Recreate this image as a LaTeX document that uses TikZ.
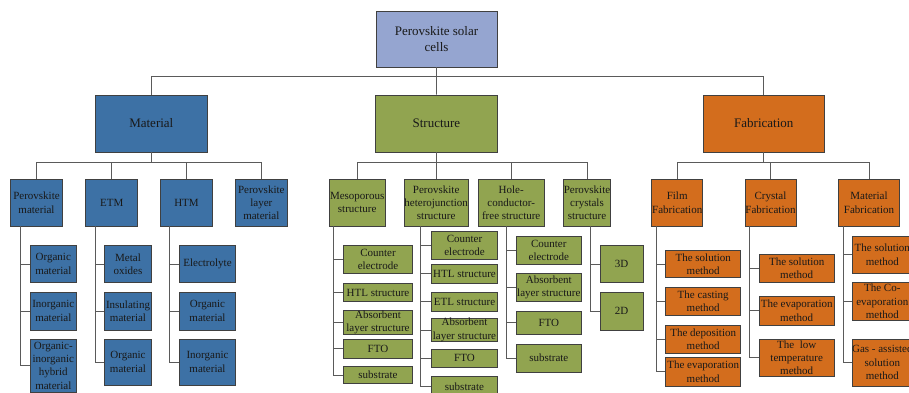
\documentclass[tikz,border=0pt]{standalone}
\usepackage{fontspec}
\setmainfont{Liberation Serif}
\definecolor{rootc}{RGB}{149,165,208}
\definecolor{matc}{RGB}{61,113,165}
\definecolor{strc}{RGB}{145,164,80}
\definecolor{fabc}{RGB}{211,109,29}
\definecolor{bordc}{RGB}{64,64,64}
\definecolor{connc}{RGB}{90,90,90}
\definecolor{txtc}{RGB}{25,25,25}
\tikzset{
 bx/.style={draw=bordc, line width=0.8pt, inner sep=0pt, align=center, text=txtc, font=\fontsize{11}{13.3}\selectfont},
 big/.style={font=\fontsize{13}{16}\selectfont},
 rootb/.style={bx, big, fill=rootc},
 matb/.style={bx, fill=matc},
 strb/.style={bx, fill=strc},
 fabb/.style={bx, fill=fabc},
 conn/.style={draw=connc, line width=0.8pt},
}
\begin{document}
\begin{tikzpicture}[x=1pt,y=-1pt]
\useasboundingbox (0,0) rectangle (909,393);
\clip (0,0) rectangle (909,393);
% level 0/1
\node[rootb, minimum width=121pt, minimum height=56pt] (root) at (436.5,39) {Perovskite solar\\cells};
\node[matb, big, minimum width=112.7pt, minimum height=57pt] (mat) at (151.3,123.5) {Material};
\node[strb, big, minimum width=121.3pt, minimum height=57pt] (str) at (436.4,123.5) {Structure};
\node[fabb, big, minimum width=121.7pt, minimum height=57pt] (fab) at (763.8,123.5) {Fabrication};
% level 2
\node[matb, minimum width=51.6pt, minimum height=46.7pt] (pm) at (36.5,202.6) {Perovskite\\material};
\node[matb, minimum width=52pt, minimum height=46.7pt] (etm) at (111.7,202.6) {ETM};
\node[matb, minimum width=51.6pt, minimum height=46.7pt] (htm) at (186.5,202.6) {HTM};
\node[matb, minimum width=51.3pt, minimum height=46.7pt] (plm) at (261.3,202.6) {Perovskite\\layer\\material};
\node[strb, minimum width=55.7pt, minimum height=46.7pt] (meso) at (357.2,202.6) {Mesoporous\\structure};
\node[strb, minimum width=64.3pt, minimum height=46.7pt] (het) at (436.2,202.6) {Perovskite\\heterojunction\\structure};
\node[strb, minimum width=65.7pt, minimum height=46.7pt] (hcf) at (511.2,202.6) {Hole-\\conductor-\\free structure};
\node[strb, minimum width=47pt, minimum height=46.7pt] (pcs) at (587,202.6) {Perovskite\\crystals\\structure};
\node[fabb, minimum width=51pt, minimum height=46.7pt] (film) at (677.2,202.6) {Film\\Fabrication};
\node[fabb, minimum width=51pt, minimum height=46.7pt] (cry) at (770.5,202.6) {Crystal\\Fabrication};
\node[fabb, minimum width=60.6pt, minimum height=46.7pt] (mfab) at (869,202.6) {Material\\Fabrication};
% level 3 - material
\node[matb, minimum width=46.7pt, minimum height=37.4pt] (om1) at (53.3,264) {Organic\\material};
\node[matb, minimum width=46.7pt, minimum height=38pt] (im1) at (53.3,311) {Inorganic\\material};
\node[matb, minimum width=46.7pt, minimum height=53pt] (oih) at (53.3,365.5) {Organic-\\inorganic\\hybrid\\material};
\node[matb, minimum width=47.4pt, minimum height=37.4pt] (mo) at (128,264) {Metal\\oxides};
\node[matb, minimum width=47.4pt, minimum height=38pt] (ins) at (128,311) {Insulating\\material};
\node[matb, minimum width=47.4pt, minimum height=46pt] (om2) at (128,362) {Organic\\material};
\node[matb, minimum width=56.4pt, minimum height=37.4pt] (el) at (207.5,264) {Electrolyte};
\node[matb, minimum width=56.4pt, minimum height=38pt] (om3) at (207.5,311) {Organic\\material};
\node[matb, minimum width=56.4pt, minimum height=46pt] (inm3) at (207.5,362) {Inorganic\\material};
% level 3 - structure
\node[strb, minimum width=69.4pt, minimum height=28pt] (m1) at (378,259.3) {Counter\\electrode};
\node[strb, minimum width=69.4pt, minimum height=18.4pt] (m2) at (378,292.5) {HTL structure};
\node[strb, minimum width=69.4pt, minimum height=23pt] (m3) at (378,322.5) {Absorbent\\layer structure};
\node[strb, minimum width=69.4pt, minimum height=19.3pt] (m4) at (378,348.7) {FTO};
\node[strb, minimum width=69.4pt, minimum height=16.6pt] (m5) at (378,375) {substrate};
\node[strb, minimum width=65.6pt, minimum height=28.3pt] (h1) at (464.5,245.2) {Counter\\electrode};
\node[strb, minimum width=65.6pt, minimum height=19.3pt] (h2) at (464.5,273.7) {HTL structure};
\node[strb, minimum width=65.6pt, minimum height=18.7pt] (h3) at (464.5,301.7) {ETL structure};
\node[strb, minimum width=65.6pt, minimum height=23.4pt] (h4) at (464.5,330) {Absorbent\\layer structure};
\node[strb, minimum width=65.6pt, minimum height=18.3pt] (h5) at (464.5,358.2) {FTO};
\node[strb, minimum width=65.6pt, minimum height=19.3pt] (h6) at (464.5,386.3) {substrate};
\node[strb, minimum width=65.7pt, minimum height=28.3pt] (c1) at (548.8,250.2) {Counter\\electrode};
\node[strb, minimum width=65.7pt, minimum height=28.4pt] (c2) at (548.8,287.5) {Absorbent\\layer structure};
\node[strb, minimum width=65.7pt, minimum height=23.3pt] (c3) at (548.8,322.7) {FTO};
\node[strb, minimum width=65.7pt, minimum height=28.3pt] (c4) at (548.8,358.2) {substrate};
\node[strb, minimum width=43pt, minimum height=37.4pt] (d3) at (621.5,264) {3D};
\node[strb, minimum width=43pt, minimum height=37.7pt] (d2) at (621.5,311.2) {2D};
% level 3 - fabrication
\node[fabb, minimum width=75pt, minimum height=26.6pt] (f1) at (703.2,264) {The solution\\method};
\node[fabb, minimum width=75pt, minimum height=28.4pt] (f2) at (703.2,301.5) {The casting\\method};
\node[fabb, minimum width=75pt, minimum height=28.3pt] (f3) at (703.2,339.2) {The deposition\\method};
\node[fabb, minimum width=75pt, minimum height=28.3pt] (f4) at (703.2,371.8) {The evaporation\\method};
\node[fabb, minimum width=74.7pt, minimum height=28.4pt] (k1) at (796.7,268.5) {The solution\\method};
\node[fabb, minimum width=74.7pt, minimum height=28.3pt] (k2) at (796.7,310.8) {The evaporation\\method};
\node[fabb, minimum width=74.7pt, minimum height=37.7pt] (k3) at (796.7,357.8) {The\ \ low\\temperature\\method};
\node[fabb, minimum width=59.3pt, minimum height=37.3pt] (g1) at (882.3,254.7) {The solution\\method};
\node[fabb, minimum width=59.3pt, minimum height=37.3pt] (g2) at (882.3,301.3) {The Co-\\evaporation\\method};
\node[fabb, minimum width=59.3pt, minimum height=47pt] (g3) at (882.3,362.5) {Gas - assisted\\solution\\method};
% connectors level 1
\draw[conn] (root.south) -- ++(0,9) -| (mat.north);
\draw[conn] (root.south) -- (str.north);
\draw[conn] (root.south) -- ++(0,9) -| (fab.north);
% level 2
\foreach \c in {pm,etm,htm,plm} \draw[conn] (mat.south) -- ++(0,10) -| (\c.north);
\foreach \c in {meso,het,hcf,pcs} \draw[conn] (str.south) -- ++(0,10) -| (\c.north);
\foreach \c in {film,cry,mfab} \draw[conn] (fab.south) -- ++(0,10) -| (\c.north);
% level 3
\foreach \c in {om1,im1,oih} \draw[conn] ([xshift=10pt]pm.south west) |- (\c.west);
\foreach \c in {mo,ins,om2} \draw[conn] ([xshift=10pt]etm.south west) |- (\c.west);
\foreach \c in {el,om3,inm3} \draw[conn] ([xshift=9.3pt]htm.south west) |- (\c.west);
\foreach \c in {m1,m2,m3,m4,m5} \draw[conn] ([xshift=4.7pt]meso.south west) |- (\c.west);
\foreach \c in {h1,h2,h3,h4,h5,h6} \draw[conn] ([xshift=16.7pt]het.south west) |- (\c.west);
\foreach \c in {c1,c2,c3,c4} \draw[conn] ([xshift=28.4pt]hcf.south west) |- (\c.west);
\foreach \c in {d3,d2} \draw[conn] ([xshift=27.2pt]pcs.south west) |- (\c.west);
\foreach \c in {f1,f2,f3,f4} \draw[conn] ([xshift=5pt]film.south west) |- (\c.west);
\foreach \c in {k1,k2,k3} \draw[conn] ([xshift=5pt]cry.south west) |- (\c.west);
\foreach \c in {g1,g2,g3} \draw[conn] ([xshift=4.6pt]mfab.south west) |- (\c.west);
\end{tikzpicture}
\end{document}
